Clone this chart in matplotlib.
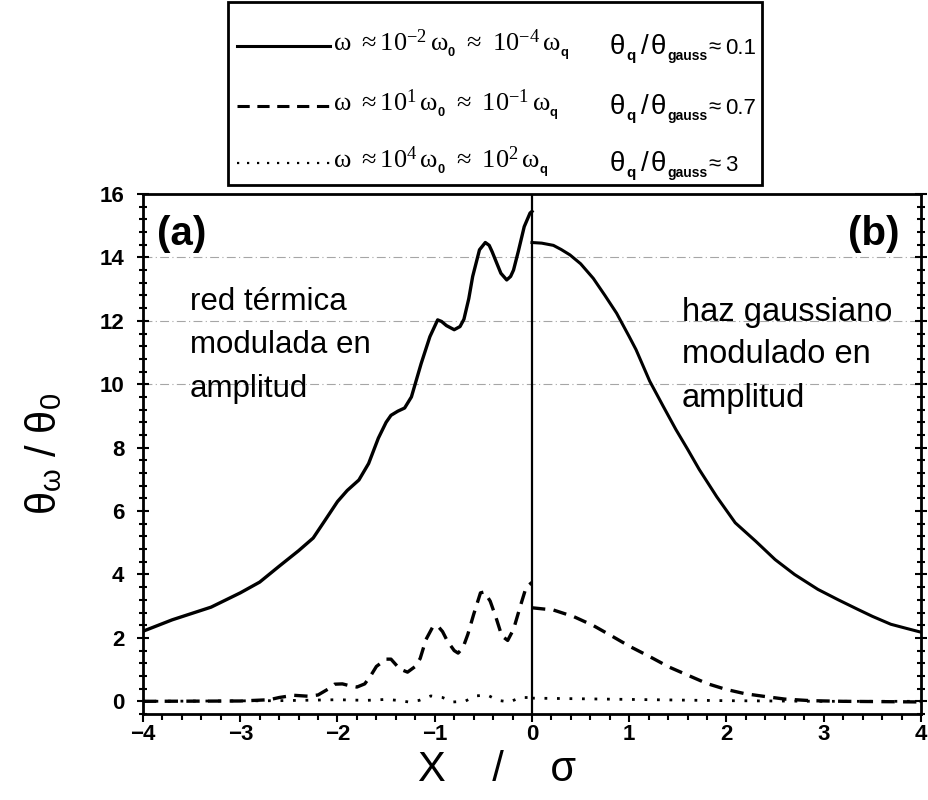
import matplotlib
matplotlib.use("Agg")
import matplotlib.pyplot as plt
from matplotlib.lines import Line2D
from matplotlib.patches import Rectangle

plt.rcParams['font.family'] = ['Liberation Sans', 'DejaVu Sans']
plt.rcParams['mathtext.fontset'] = 'custom'
plt.rcParams['mathtext.rm'] = 'Liberation Serif'
plt.rcParams['mathtext.it'] = 'Liberation Serif'
plt.rcParams['mathtext.bf'] = 'Liberation Sans:bold'
plt.rcParams['mathtext.sf'] = 'Liberation Sans'

# panel (a): thermal grating, x < 0
xa_solid = [-4.0, -3.7, -3.3, -3.0, -2.8, -2.6, -2.4, -2.25, -2.13, -2.0, -1.9, -1.78,
            -1.68, -1.58, -1.5, -1.45, -1.38, -1.31, -1.24, -1.14, -1.05, -0.97, -0.93,
            -0.88, -0.8, -0.74, -0.7, -0.65, -0.61, -0.54, -0.48, -0.44, -0.41, -0.36,
            -0.32, -0.26, -0.22, -0.19, -0.14, -0.08, -0.02, 0.0]
ya_solid = [2.21, 2.57, 2.97, 3.42, 3.76, 4.26, 4.75, 5.15, 5.7, 6.3, 6.65, 6.98,
            7.5, 8.3, 8.8, 9.02, 9.15, 9.25, 9.6, 10.65, 11.5, 12.03, 11.98,
            11.85, 11.72, 11.82, 12.05, 12.7, 13.4, 14.24, 14.47, 14.38, 14.18, 13.8,
            13.5, 13.29, 13.4, 13.6, 14.2, 14.97, 15.4, 15.45]

xa_dash = [-4.0, -3.0, -2.7, -2.6, -2.45, -2.3, -2.2, -2.1, -2.03, -1.95, -1.86, -1.8,
           -1.72, -1.66, -1.6, -1.5, -1.45, -1.36, -1.28, -1.2, -1.15, -1.09, -1.02,
           -0.97, -0.92, -0.87, -0.8, -0.76, -0.71, -0.66, -0.6, -0.53, -0.49, -0.43,
           -0.37, -0.31, -0.25, -0.19, -0.12, -0.06, 0.0]
ya_dash = [0.0, 0.01, 0.05, 0.12, 0.19, 0.16, 0.2, 0.38, 0.54, 0.55, 0.48, 0.45,
           0.55, 0.8, 1.1, 1.33, 1.33, 1.02, 0.92, 1.1, 1.35, 1.95, 2.35,
           2.38, 2.2, 1.9, 1.6, 1.52, 1.69, 2.11, 2.74, 3.42, 3.45, 3.16,
           2.64, 2.06, 1.92, 2.27, 3.0, 3.6, 3.75]

xa_dot = [-4.0, -2.6, -2.0, -1.7, -1.5, -1.38, -1.27, -1.16, -1.04, -0.92, -0.81,
          -0.69, -0.58, -0.46, -0.35, -0.23, -0.12, 0.0]
ya_dot = [0.0, 0.02, 0.05, 0.03, 0.06, 0.03, -0.02, 0.03, 0.17, 0.12, -0.02,
          0.0, 0.17, 0.2, 0.03, -0.02, 0.12, 0.12]

# panel (b): gaussian beam, x > 0
xb_solid = [0.0, 0.1, 0.22, 0.3, 0.39, 0.5, 0.63, 0.75, 0.87, 1.0, 1.07, 1.21, 1.35,
            1.48, 1.6, 1.72, 1.9, 2.09, 2.3, 2.5, 2.7, 2.94, 3.15, 3.35, 3.5, 3.69,
            3.85, 4.0]
yb_solid = [14.47, 14.45, 14.38, 14.25, 14.08, 13.8, 13.34, 12.8, 12.24, 11.5, 11.09,
            10.1, 9.3, 8.57, 7.95, 7.31, 6.45, 5.63, 5.05, 4.47, 4.0, 3.53, 3.2, 2.9,
            2.68, 2.43, 2.3, 2.18]

xb_dash = [0.0, 0.22, 0.43, 0.63, 0.82, 1.0, 1.21, 1.41, 1.62, 1.8, 1.99, 2.19, 2.4,
           2.6, 2.87, 3.2, 4.0]
yb_dash = [2.95, 2.88, 2.67, 2.39, 2.06, 1.74, 1.41, 1.08, 0.8, 0.56, 0.38, 0.24, 0.15,
           0.07, 0.02, 0.0, -0.02]

xb_dot = [0.0, 1.0, 2.0, 3.0, 4.0]
yb_dot = [0.1, 0.06, 0.02, 0.0, 0.0]

legend_left = [r"$\mathrm{\omega\ \approx 10^{-2}\,\omega_{_\mathbf{0}}\ \approx\ 10^{-4}\,\omega_{_\mathbf{q}}}$",
               r"$\mathrm{\omega\ \approx 10^{1}\,\omega_{_\mathbf{0}}\ \approx\ 10^{-1}\,\omega_{_\mathbf{q}}}$",
               r"$\mathrm{\omega\ \approx 10^{4}\,\omega_{_\mathbf{0}}\ \approx\ 10^{2}\,\omega_{_\mathbf{q}}}$"]
legend_ratio = ["0.1", "0.7", "3"]

dash_style = (0, (4, 2.5))
dot_style = (0, (1, 3.5))
styles = ['-', dash_style, dot_style]

W, H = 929, 800
fig = plt.figure(figsize=(W / 100, H / 100), dpi=100)
ax = fig.add_axes([143 / W, 1 - 714 / H, 778 / W, 520 / H])

# faint grid traces
for yg in [10, 12, 14]:
    ax.axhline(yg, color='0.65', lw=0.8, ls=(0, (8, 3, 1, 3)), zorder=0)

ax.plot(xa_solid, ya_solid, color='black', lw=2.4, ls='-')
ax.plot(xb_solid, yb_solid, color='black', lw=2.2, ls='-')
ax.plot(xa_dash, ya_dash, color='black', lw=2.4, ls=dash_style)
ax.plot(xb_dash, yb_dash, color='black', lw=2.4, ls=dash_style)
ax.plot(xa_dot, ya_dot, color='black', lw=2.0, ls=dot_style)
ax.plot(xb_dot, yb_dot, color='black', lw=2.0, ls=dot_style)
ax.axvline(0, color='black', lw=1.6)

ax.set_xlim(-4, 4)
ax.set_ylim(-0.4, 16)
ax.set_xticks(range(-4, 5))
ax.set_yticks(range(0, 17, 2))
ax.set_xticks([i * 0.2 - 4 for i in range(41)], minor=True)
ax.set_yticks([i * 0.4 for i in range(-1, 41)], minor=True)
ax.tick_params(axis='y', which='both', direction='inout', right=True, width=1.5)
ax.tick_params(axis='y', which='major', length=9, pad=9)
ax.tick_params(axis='y', which='minor', length=6)
ax.tick_params(axis='x', which='both', direction='out', width=1.5)
ax.tick_params(axis='x', which='major', length=6, pad=1)
ax.tick_params(axis='x', which='minor', length=4)
for lab in ax.get_xticklabels() + ax.get_yticklabels():
    lab.set_fontsize(16)
    lab.set_fontweight('bold')
for s in ax.spines.values():
    s.set_linewidth(2)

ax.set_xlabel("X    /    σ", fontsize=30)
ax.xaxis.set_label_coords((497 - 143) / 778, -0.07)
ax.set_ylabel(r"θ$_{\mathsf{\omega}}$ / θ$_{\mathsf{0}}$", fontsize=30)
ax.yaxis.set_label_coords(-0.1, 0.5)

ax.text(-3.86, 14.75, "(a)", fontsize=29, fontweight='bold', va='center')
ax.text(3.78, 14.75, "(b)", fontsize=29, fontweight='bold', va='center', ha='right')
for txt, yy in zip(["red térmica", "modulada en", "amplitud"], [12.35, 10.98, 9.6]):
    ax.text(-3.52, yy, txt, fontsize=22.5, va='baseline')
for txt, yy in zip(["haz gaussiano", "modulado en", "amplitud"], [12.0, 10.68, 9.28]):
    ax.text(1.54, yy, txt, fontsize=23.5, va='baseline')

# legend box drawn by hand
fig.patches.append(Rectangle((228 / W, 1 - 185 / H), 534 / W, 183 / H, transform=fig.transFigure,
                             fill=False, edgecolor='black', lw=2))
rows = [46, 106, 163]
for ry, st, lt, rt in zip(rows, styles, legend_left, legend_ratio):
    yf = 1 - ry / H
    yb = 1 - (ry + 8) / H
    ys = 1 - (ry + 14) / H
    fig.lines.append(Line2D([237 / W, 330 / W], [yf, yf], transform=fig.transFigure,
                            color='black', lw=2.2 if st != dot_style else 1.6, ls=st))
    fig.text(333 / W, yf, lt, fontsize=19, va='center')
    fig.text(610 / W, yb, "θ", fontsize=20, va='baseline')
    fig.text(626 / W, ys, "q", fontsize=11, fontweight='bold', va='baseline')
    fig.text(641 / W, yb, "/", fontsize=20, va='baseline')
    fig.text(651 / W, yb, "θ", fontsize=20, va='baseline')
    fig.text(667 / W, ys, "gauss", fontsize=10, fontweight='bold', va='baseline')
    fig.text(708 / W, yb, "≈", fontsize=16, va='baseline')
    fig.text(725 / W, yb, rt, fontsize=16, va='baseline')

fig.savefig("out.png", dpi=100)
